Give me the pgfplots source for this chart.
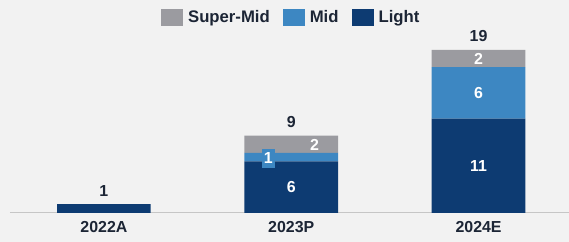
\documentclass[border=0pt]{standalone}
\usepackage{pgfplots}
\pgfplotsset{compat=1.18}
\usepackage{fontspec}
\setmainfont{Liberation Sans}
\definecolor{cLight}{HTML}{0D3B72}
\definecolor{cMid}{HTML}{3D87C2}
\definecolor{cSuper}{HTML}{9B9BA0}
\definecolor{cBg}{HTML}{F2F2F2}
\definecolor{cTxt}{HTML}{1C2535}
\definecolor{cAxis}{HTML}{C6C6C6}
\newcommand{\bfont}{\fontsize{16}{18}\selectfont\bfseries}
\newcommand{\lfont}{\fontsize{16.8}{19}\selectfont\bfseries}
\tikzset{tot/.style={font=\bfont, text=cTxt, anchor=base, inner sep=0pt},
         seg/.style={font=\bfont, text=white, anchor=center, inner sep=0pt}}
\begin{document}
\begin{tikzpicture}
\fill[cBg] (0,0) rectangle (569bp,242bp);
\begin{axis}[
  at={(10bp,29bp)}, anchor=south west,
  scale only axis, width=559bp, height=213bp,
  xmin=-0.5013, xmax=2.48, ymin=0, ymax=24.83,
  ybar stacked, bar width=0.5,
  axis y line=none, axis x line*=bottom,
  x axis line style={draw=cAxis, line width=1pt},
  xtick={0,1,2}, xticklabels={2022A,2023P,2024E},
  major tick length=0pt,
  xticklabel style={font=\bfont, text=cTxt, yshift=-5bp},
  legend columns=3, reverse legend,
  legend style={draw=none, fill=none, at={(0.5036,0.918)}, anchor=center,
    font=\lfont, text=cTxt,
    /tikz/every odd column/.append style={column sep=3bp},
    /tikz/every even column/.append style={column sep=11bp}},
  legend image code/.code={\fill[#1] (0bp,-8.5bp) rectangle (22bp,8.5bp);},
  clip=false,
]
\addplot[fill=cLight, draw=none] coordinates {(0,1) (1,6) (2,11)};
\addplot[fill=cMid, draw=none] coordinates {(0,0) (1,1) (2,6)};
\addplot[fill=cSuper, draw=none] coordinates {(0,0) (1,2) (2,2)};
\legend{Light,Mid,Super-Mid}
\coordinate (t1) at (axis cs:0,1);
\coordinate (t2) at (axis cs:1,9);
\coordinate (t3) at (axis cs:2,19);
\coordinate (s1) at (axis cs:1,3);
\coordinate (s2) at (axis cs:1.125,7.93);
\coordinate (s3) at (axis cs:0.877,6.35);
\coordinate (s4) at (axis cs:2,5.5);
\coordinate (s5) at (axis cs:2,14);
\coordinate (s6) at (axis cs:2,18);
\end{axis}
\node[tot, yshift=7.5bp] at (t1) {1};
\node[tot, yshift=8bp] at (t2) {9};
\node[tot, yshift=8bp] at (t3) {19};
\node[seg] at (s1) {6};
\node[seg] at (s2) {2};
\node[seg, fill=cMid, minimum width=13bp, minimum height=19bp] at (s3) {1};
\node[seg] at (s4) {11};
\node[seg] at (s5) {6};
\node[seg] at (s6) {2};
\end{tikzpicture}
\end{document}
